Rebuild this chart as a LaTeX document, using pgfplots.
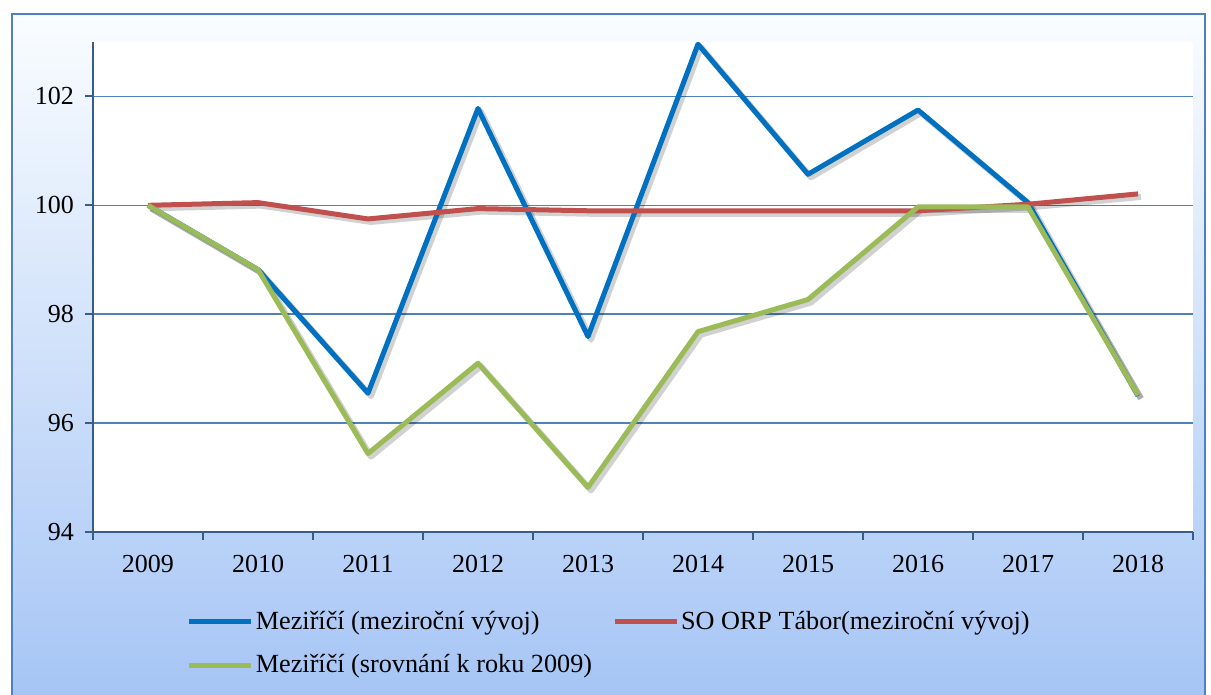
\documentclass[border=0pt]{standalone}
\usepackage{fontspec}
\setmainfont{Liberation Serif}
\usepackage{pgfplots}
\pgfplotsset{compat=1.18}
\usetikzlibrary{calc}

\definecolor{serblue}{RGB}{0,112,192}
\definecolor{serred}{RGB}{192,80,77}
\definecolor{sergreen}{RGB}{155,187,89}
\definecolor{gridblue}{RGB}{79,129,189}
\definecolor{axisblue}{RGB}{56,93,138}
\definecolor{frameblue}{RGB}{79,129,189}

% values
\pgfplotstableread{
x blue red green
0 100.00 100.00 100.00
1 98.82 100.05 98.82
2 96.55 99.75 95.44
3 101.78 99.94 97.10
4 97.59 99.90 94.82
5 102.96 99.90 97.68
6 100.57 99.90 98.27
7 101.75 99.90 99.97
8 100.05 100.02 99.97
9 96.50 100.21 96.51
}\datatable

\begin{document}
\begin{tikzpicture}
% 1 px of the reference = 0.5pt
\useasboundingbox (0,0) rectangle (605.5pt,347.5pt);
\fill[top color={rgb,255:red,250;green,253;blue,255},
      middle color={rgb,255:red,214;green,232;blue,252},
      bottom color={rgb,255:red,166;green,197;blue,245}]
  (6pt,0pt) rectangle (602.5pt,340.5pt);
\draw[frameblue, line width=1pt] (6pt,-1pt) -- (6pt,340.5pt) -- (602.5pt,340.5pt) -- (602.5pt,-1pt);

\begin{axis}[
    at={(46.5pt,81.5pt)}, anchor=south west,
    scale only axis,
    width=550pt, height=245pt,
    xmin=-0.5, xmax=9.5,
    ymin=94, ymax=103,
    axis lines=left,
    axis line style={-, axisblue, line width=1pt},
    axis background/.style={fill=white},
    xtick={0,...,9},
    xticklabels={2009,2010,2011,2012,2013,2014,2015,2016,2017,2018},
    major x tick style={draw=none},
    minor xtick={-0.5,0.5,...,9.5},
    minor x tick style={axisblue, line width=1pt},
    minor tick length=4pt,
    ytick={94,96,98,100,102},
    y tick style={axisblue, line width=1pt},
    major tick length=4pt,
    tick align=outside,
    ymajorgrids,
    major grid style={gridblue, line width=0.75pt},
    tick label style={font=\fontsize{13}{15}\selectfont},
    /pgf/number format/assume math mode=true,
    xticklabel style={yshift=-4pt},
    yticklabel style={xshift=-2pt},
    legend columns=2,
    legend style={draw=none, fill=none, at={(0.085,-0.157)}, anchor=north west,
        font=\fontsize{13.1}{14}\selectfont, inner sep=0pt,
        row sep=9pt,
        /tikz/column 2/.style={column sep=9pt},
        nodes={inner sep=1pt}},
    legend cell align=left,
    legend image code/.code={\draw[#1] (0pt,0pt) -- (31pt,0pt);},
    every axis plot/.append style={line join=round},
]
% shadows
\addplot[black, opacity=0.18, line width=3pt, xshift=1.5pt, yshift=-1.5pt, forget plot] table[x=x, y=blue] {\datatable};
\addplot[black, opacity=0.18, line width=3pt, xshift=1.5pt, yshift=-1.5pt, forget plot] table[x=x, y=red] {\datatable};
\addplot[black, opacity=0.18, line width=3pt, xshift=1.5pt, yshift=-1.5pt, forget plot] table[x=x, y=green] {\datatable};
% series
\addplot[serblue, line width=2.5pt] table[x=x, y=blue] {\datatable};
\addlegendentry{Meziříčí (meziroční vývoj)}
\addplot[serred, line width=2.5pt] table[x=x, y=red] {\datatable};
\addlegendentry{SO ORP Tábor(meziroční vývoj)}
\addplot[sergreen, line width=2.5pt] table[x=x, y=green] {\datatable};
\addlegendentry{Meziříčí (srovnání k roku 2009)}
\end{axis}
\end{tikzpicture}
\end{document}
